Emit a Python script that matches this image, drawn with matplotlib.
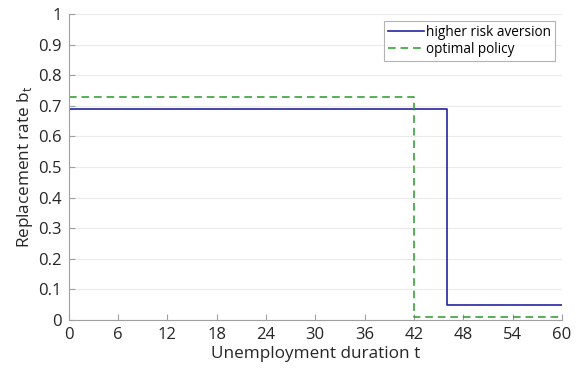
import matplotlib
matplotlib.use('Agg')
import matplotlib.pyplot as plt

# step values
t_risk = [0, 46, 46, 60]
b_risk = [0.69, 0.69, 0.05, 0.05]
t_opt = [0, 42, 42, 60]
b_opt = [0.73, 0.73, 0.01, 0.01]
xticks = list(range(0, 61, 6))
yticks = [i / 10 for i in range(11)]

plt.rcParams['font.family'] = ['Open Sans', 'DejaVu Sans']

fig = plt.figure(figsize=(5.78, 3.70), dpi=100)
ax = fig.add_axes([0.119, 0.135, 0.853, 0.827])

ax.plot(t_risk, b_risk, color='#2424a0', lw=1.2, label='higher risk aversion')
ax.plot(t_opt, b_opt, color='#2a9a2a', lw=1.1, ls=(0, (5, 3.2)), label='optimal policy')

ax.set_xlim(0, 60)
ax.set_ylim(0, 1)
ax.set_xticks(xticks)
ax.set_yticks(yticks)
ax.set_yticklabels(['0' if v == 0 else ('1' if v == 1 else f'{v:g}') for v in yticks])
ax.yaxis.grid(True, color='#ebebeb', lw=0.8)
ax.set_axisbelow(True)
for s in ['top', 'right']:
    ax.spines[s].set_visible(False)
for s in ['left', 'bottom']:
    ax.spines[s].set_color('#a0a0a0')
ax.tick_params(direction='in', length=4, color='#a0a0a0', labelsize=12, labelcolor='#262626', pad=5)

ax.set_xlabel('Unemployment duration t', fontsize=12.3, color='#262626', labelpad=2)
ax.set_ylabel('Replacement rate b$_\\mathregular{t}$', fontsize=12.3, color='#262626', labelpad=2.5)

leg = ax.legend(loc='upper right', fontsize=9.8, frameon=True, fancybox=False,
                handlelength=2.6, handletextpad=0.15, borderpad=0.3, labelspacing=0.15,
                borderaxespad=0.5)
leg.get_frame().set_edgecolor('#a0a0a0')
leg.get_frame().set_linewidth(0.8)

plt.savefig('out.png', dpi=100)
